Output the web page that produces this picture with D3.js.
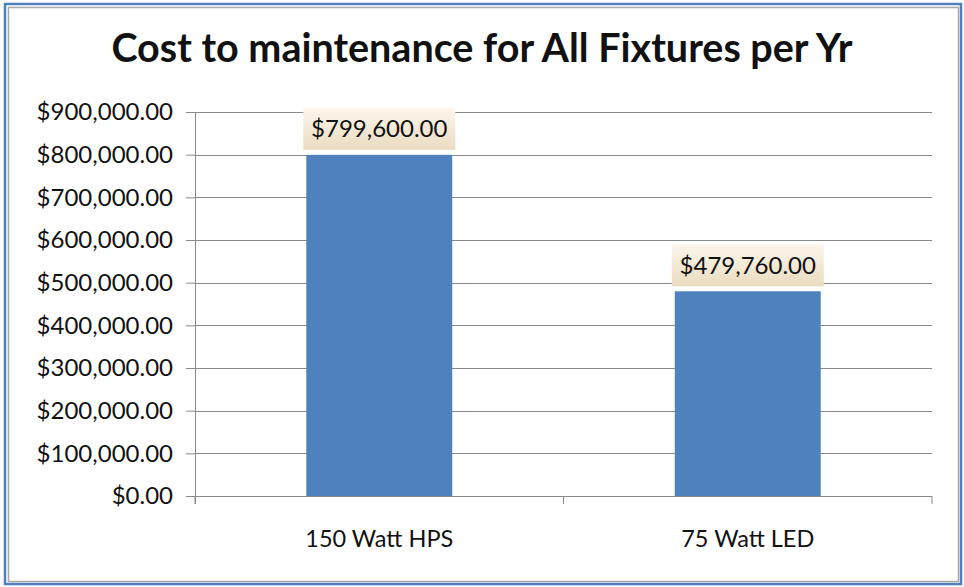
<!doctype html>
<html>
  <head>
    <meta charset="utf-8">
    <title>Cost to maintenance</title>
    <script src="https://d3js.org/d3.v7.min.js"></script>
    <style>
      body { margin: 0; background: #fff; }
      text { font-family: Lato, "Open Sans", sans-serif; fill: #111; }
    </style>
  </head>
  <body>
    <script>
      // data
      var categories = ["150 Watt HPS", "75 Watt LED"];
      var costs = [799600, 479760];
      var yTicks = [0, 100000, 200000, 300000, 400000, 500000, 600000, 700000, 800000, 900000];
      var title = "Cost to maintenance for All Fixtures per Yr";

      var w = 964, h = 587;
      var plotL = 195, plotR = 932, plotT = 112, plotB = 496;

      var svg = d3.select("body").append("svg")
        .attr("width", w)
        .attr("height", h);

      // label gradient
      var grad = svg.append("defs").append("linearGradient")
        .attr("id", "lbl").attr("x1", 0).attr("y1", 0).attr("x2", 0).attr("y2", 1);
      grad.append("stop").attr("offset", "0%").attr("stop-color", "#fcf6ec");
      grad.append("stop").attr("offset", "100%").attr("stop-color", "#eadcc0");

      // frame
      svg.append("rect").attr("x", 5).attr("y", 4).attr("width", 956).attr("height", 580)
        .attr("fill", "#fff").attr("stroke", "#4f81bd").attr("stroke-width", 2.5);
      svg.append("rect").attr("x", 8.5).attr("y", 7.5).attr("width", 950).attr("height", 574)
        .attr("fill", "none").attr("stroke", "#a8a8a8").attr("stroke-width", 1.5);

      var x = d3.scaleBand()
        .domain(categories)
        .range([plotL, plotR])
        .paddingInner(0.604)
        .paddingOuter(0.302);

      var y = d3.scaleLinear()
        .domain([0, 900000])
        .range([plotB, plotT]);

      var money = function(d) { return "$" + d3.format(",.2f")(d); };

      // y axis with gridlines
      var yAxis = svg.append("g")
        .attr("transform", "translate(" + plotL + ",0)")
        .call(d3.axisLeft(y).tickValues(yTicks).tickSize(9).tickPadding(13).tickFormat(money));
      yAxis.select(".domain").remove();
      yAxis.selectAll(".tick line").attr("stroke", "#8a8a8a");
      yAxis.selectAll(".tick text").style("font-size", "24px").attr("fill", "#111");

      svg.append("g").selectAll("line")
        .data(yTicks)
        .enter().append("line")
        .attr("x1", plotL).attr("x2", plotR)
        .attr("y1", function(d) { return Math.round(y(d)) + 0.5; })
        .attr("y2", function(d) { return Math.round(y(d)) + 0.5; })
        .attr("stroke", "#8a8a8a");

      svg.append("line")
        .attr("x1", plotL + 0.5).attr("x2", plotL + 0.5)
        .attr("y1", plotT).attr("y2", plotB + 8)
        .attr("stroke", "#8a8a8a");

      // x axis ticks at band edges
      var edges = [plotL, (plotL + plotR) / 2, plotR];
      svg.append("g").selectAll("line")
        .data(edges)
        .enter().append("line")
        .attr("x1", function(d) { return d; }).attr("x2", function(d) { return d; })
        .attr("y1", plotB).attr("y2", plotB + 8)
        .attr("stroke", "#8a8a8a");

      svg.append("g").selectAll("text")
        .data(categories)
        .enter().append("text")
        .attr("x", function(d) { return x(d) + x.bandwidth() / 2; })
        .attr("y", 547)
        .attr("text-anchor", "middle")
        .style("font-size", "23.5px")
        .text(function(d) { return d; });

      // bars
      svg.append("g").selectAll("rect")
        .data(costs)
        .enter().append("rect")
        .attr("x", function(d, i) { return x(categories[i]); })
        .attr("y", function(d) { return y(d); })
        .attr("width", x.bandwidth())
        .attr("height", function(d) { return plotB - y(d); })
        .attr("fill", "#4f81bd");

      // data labels
      var lbl = svg.append("g").selectAll("g")
        .data(costs)
        .enter().append("g")
        .attr("transform", function(d, i) {
          return "translate(" + (x(categories[i]) + x.bandwidth() / 2) + "," + (y(d) - 26) + ")";
        });
      lbl.append("rect")
        .attr("x", -76).attr("y", -21).attr("width", 152).attr("height", 42)
        .attr("fill", "url(#lbl)");
      lbl.append("text")
        .attr("text-anchor", "middle")
        .attr("dy", "0.35em")
        .style("font-size", "24px")
        .text(money);

      // title
      svg.append("text")
        .attr("x", 482).attr("y", 62)
        .attr("text-anchor", "middle")
        .style("font-size", "39.5px")
        .style("font-weight", "bold")
        .text(title);
    </script>
  </body>
</html>
